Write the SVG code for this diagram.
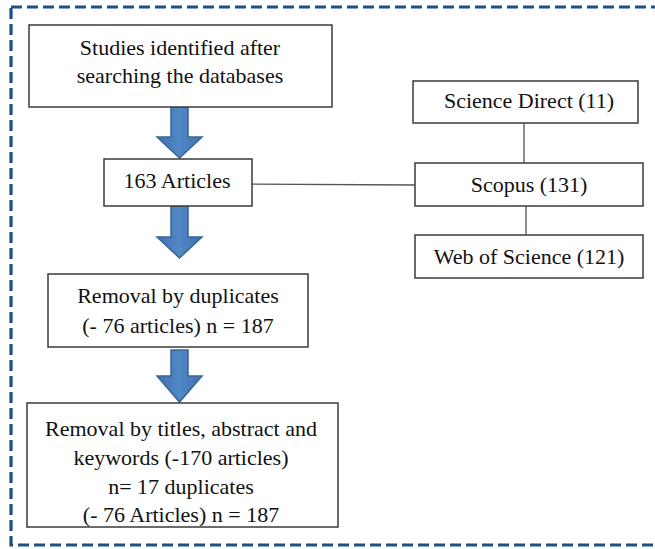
<svg xmlns="http://www.w3.org/2000/svg" width="655" height="549" viewBox="0 0 655 549">
<style>
.box{fill:#fff;stroke:#3a3a3a;stroke-width:1.5}
.t{font-family:'Liberation Serif','Times New Roman',serif;font-size:22px;fill:#111;text-anchor:middle}
.ln{stroke:#555;stroke-width:1.3;fill:none}
.arr{fill:url(#ag);stroke:#3a6596;stroke-width:1.5;stroke-linejoin:miter}
.frame{fill:none;stroke:#1f4e84;stroke-width:3.2;stroke-dasharray:11 5}
</style>
<defs>
<linearGradient id="ag" x1="0" y1="0" x2="1" y2="0">
<stop offset="0" stop-color="#3f70ab"/>
<stop offset="0.5" stop-color="#5288c7"/>
<stop offset="1" stop-color="#3f70ab"/>
</linearGradient>
</defs>
<rect class="frame" x="11" y="7" width="660" height="538"/>
<g id="connectors">
<line class="ln" x1="240" y1="184" x2="415" y2="185"/>
<line class="ln" x1="524" y1="123" x2="524" y2="163"/>
<line class="ln" x1="526" y1="206" x2="526" y2="235"/>
<path class="arr" d="M171,107 H188 V137 H202 L179.5,158 L157,137 H171 Z"/>
<path class="arr" d="M171,206 H188 V237 H202 L179.5,258 L157,237 H171 Z"/>
<path class="arr" d="M171,350 H188 V376 H202 L179.5,402 L157,376 H171 Z"/>
</g>
<g id="studies">
<rect class="box" x="29" y="25" width="303" height="82"/>
<text class="t" x="180" y="55">Studies identified after</text>
<text class="t" x="180" y="83">searching the databases</text>
</g>
<g id="articles163">
<rect class="box" x="104" y="159" width="148" height="47"/>
<text class="t" x="177" y="188">163 Articles</text>
</g>
<g id="duplicates">
<rect class="box" x="48" y="274" width="260" height="73"/>
<text class="t" x="178" y="303">Removal by duplicates</text>
<text class="t" x="178" y="333">(- 76 articles) n = 187</text>
</g>
<g id="titles">
<rect class="box" x="27" y="403" width="311" height="124"/>
<text class="t" x="181" y="436">Removal by titles, abstract and</text>
<text class="t" x="181" y="465">keywords (-170 articles)</text>
<text class="t" x="181" y="494">n= 17 duplicates</text>
<text class="t" x="181" y="522">(- 76 Articles) n = 187</text>
</g>
<g id="sciencedirect">
<rect class="box" x="413" y="81" width="225" height="42"/>
<text class="t" x="529" y="108">Science Direct (11)</text>
</g>
<g id="scopus">
<rect class="box" x="415" y="163" width="228" height="43"/>
<text class="t" x="529" y="192">Scopus (131)</text>
</g>
<g id="wos">
<rect class="box" x="415" y="235" width="228" height="43"/>
<text class="t" x="529" y="264">Web of Science (121)</text>
</g>
</svg>
